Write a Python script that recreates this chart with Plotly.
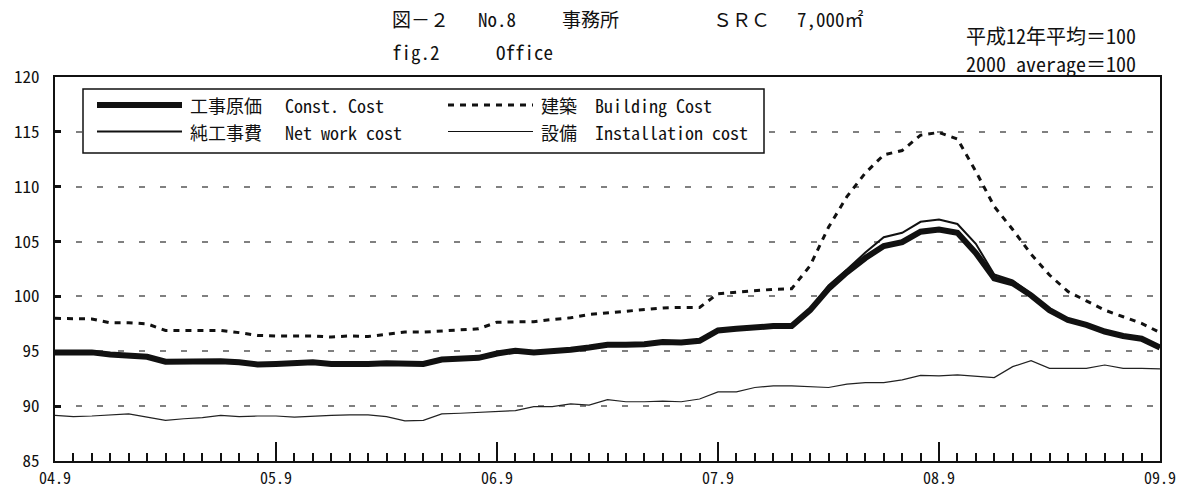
import plotly.graph_objects as go

# ---------------- data ----------------
months = list(range(61))  # monthly index, 0 = 2004.9 ... 60 = 2009.9
tick_pos = [0, 12, 24, 36, 48, 60]
tick_labels = ["04.9", "05.9", "06.9", "07.9", "08.9", "09.9"]
y_ticks = [85, 90, 95, 100, 105, 110, 115, 120]

const_cost = [94.9, 94.9, 94.9, 94.7, 94.6, 94.5, 94.05, 94.1, 94.1, 94.1, 94.0,
              93.8, 93.85, 93.9, 94.0, 93.85, 93.8, 93.85, 93.9, 93.9, 93.85,
              94.25, 94.35, 94.4, 94.8, 95.05, 94.9, 95.0, 95.15, 95.35, 95.6,
              95.6, 95.65, 95.85, 95.8, 95.95, 96.9, 97.05, 97.2, 97.3, 97.3,
              98.75, 100.7, 102.2, 103.5, 104.6, 104.95, 105.9, 106.1, 105.8, 103.95,
              101.65, 101.2, 100.1, 98.75, 97.85, 97.4, 96.8, 96.4, 96.15, 95.35]

net_work_cost = [94.95, 94.95, 94.95, 94.75, 94.65, 94.55, 94.1, 94.15, 94.15, 94.15, 94.05,
                 93.85, 93.9, 93.95, 94.05, 93.9, 93.85, 93.9, 93.95, 93.95, 93.9,
                 94.3, 94.4, 94.45, 94.85, 95.1, 94.95, 95.05, 95.2, 95.4, 95.65,
                 95.65, 95.7, 95.9, 95.85, 96.0, 96.95, 97.1, 97.25, 97.35, 97.35,
                 98.85, 101.0, 102.45, 104.0, 105.4, 105.8, 106.8, 107.0, 106.6, 104.8,
                 102.0, 101.45, 100.25, 98.8, 97.9, 97.45, 96.85, 96.45, 96.2, 95.4]

building_cost = [98.0, 98.0, 97.95, 97.6, 97.6, 97.5, 96.9, 96.9, 96.9, 96.9, 96.7,
                 96.45, 96.4, 96.4, 96.4, 96.3, 96.4, 96.35, 96.55, 96.75, 96.75,
                 96.85, 97.0, 97.05, 97.65, 97.7, 97.7, 97.9, 98.05, 98.35, 98.5,
                 98.7, 98.8, 98.95, 99.0, 99.0, 100.25, 100.4, 100.55, 100.65, 100.7,
                 102.8, 106.3, 109.1, 111.25, 112.9, 113.3, 114.7, 114.95, 114.35, 111.4,
                 108.2, 106.1, 103.85, 101.95, 100.45, 99.6, 98.75, 98.15, 97.55, 96.7]

installation_cost = [89.15, 89.05, 89.1, 89.2, 89.3, 89.0, 88.7, 88.85, 88.95, 89.15, 89.05,
                     89.1, 89.1, 89.0, 89.1, 89.15, 89.2, 89.2, 89.05, 88.65, 88.7,
                     89.3, 89.35, 89.45, 89.55, 89.6, 89.95, 89.95, 90.2, 90.1, 90.6,
                     90.4, 90.4, 90.45, 90.4, 90.65, 91.3, 91.3, 91.7, 91.85, 91.85,
                     91.8, 91.7, 92.0, 92.15, 92.15, 92.4, 92.8, 92.75, 92.85, 92.75,
                     92.6, 93.6, 94.15, 93.45, 93.45, 93.45, 93.75, 93.45, 93.45, 93.4]

# ---------------- layout constants ----------------
W, H = 1189, 492
PX0, PX1 = 55, 1160      # plot area left/right (pixels)
PY0, PY1 = 77, 461       # plot area top/bottom (pixels)
L, T = PX0, PY0
R, B = W - PX1, H - PY1
PW, PH = PX1 - PX0, PY1 - PY0
FONT = "Noto Sans Mono CJK JP, Noto Sans CJK JP, monospace"
BLD_DASH = "6px,6px"


def px(x):
    return (x - PX0) / PW


def py(y):
    return (PY1 - y) / PH


fig = go.Figure()
fig.add_trace(go.Scatter(x=months, y=installation_cost, mode="lines",
                         line=dict(color="#222", width=1.2), showlegend=False))
fig.add_trace(go.Scatter(x=months, y=building_cost, mode="lines",
                         line=dict(color="#111", width=3, dash=BLD_DASH), showlegend=False))
fig.add_trace(go.Scatter(x=months, y=net_work_cost, mode="lines",
                         line=dict(color="#111", width=2), showlegend=False))
fig.add_trace(go.Scatter(x=months, y=const_cost, mode="lines",
                         line=dict(color="#111", width=6), showlegend=False))

shapes = []
annotations = []

# legend box
shapes.append(dict(type="rect", xref="paper", yref="paper",
                   x0=px(83), x1=px(764), y0=py(153), y1=py(89),
                   line=dict(color="#111", width=1.5), fillcolor="white", layer="above"))
row1, row2 = 105, 131.5
shapes.append(dict(type="line", xref="paper", yref="paper", x0=px(97), x1=px(182),
                   y0=py(row1), y1=py(row1), line=dict(color="#111", width=6), layer="above"))
shapes.append(dict(type="line", xref="paper", yref="paper", x0=px(97), x1=px(182),
                   y0=py(row2), y1=py(row2), line=dict(color="#111", width=2), layer="above"))
shapes.append(dict(type="line", xref="paper", yref="paper", x0=px(448), x1=px(533),
                   y0=py(row1), y1=py(row1), line=dict(color="#111", width=3, dash=BLD_DASH),
                   layer="above"))
shapes.append(dict(type="line", xref="paper", yref="paper", x0=px(448), x1=px(533),
                   y0=py(row2), y1=py(row2), line=dict(color="#111", width=1.2), layer="above"))


def txt(x, y, s, size=18):
    annotations.append(dict(xref="paper", yref="paper", x=px(x), y=py(y), text=s,
                            showarrow=False, xanchor="left", yanchor="middle",
                            font=dict(family=FONT, size=size, color="#111")))


txt(188, row1, "工事原価")
txt(283, row1, "Const. Cost")
txt(188, row2, "純工事費")
txt(283, row2, "Net work cost")
txt(539, row1, "建築")
txt(593, row1, "Building Cost")
txt(539, row2, "設備")
txt(593, row2, "Installation cost")

# titles
txt(390, 19, "図－２", 19)
txt(476, 19, "No.8", 19)
txt(560, 19, "事務所", 19)
txt(711, 19, "ＳＲＣ", 19)
txt(795, 19, "7,000㎡", 19)
txt(390, 51.5, "fig.2", 19)
txt(494, 51.5, "Office", 19)
txt(964, 35, "平成12年平均＝100", 20)
txt(964, 63, "2000 average＝100", 20)

fig.update_layout(
    width=W, height=H,
    margin=dict(l=L, r=R, t=T, b=B, autoexpand=False),
    paper_bgcolor="white", plot_bgcolor="white",
    showlegend=False,
    shapes=shapes, annotations=annotations,
    font=dict(family=FONT, size=18, color="#111"),
)
fig.update_xaxes(
    range=[0, 60], tickmode="array", tickvals=tick_pos, ticktext=tick_labels,
    ticks="inside", ticklen=19, tickwidth=1.5, tickcolor="#111",
    minor=dict(tickmode="linear", tick0=0, dtick=1, ticks="inside", ticklen=8,
               tickwidth=1.5, tickcolor="#111", showgrid=False),
    showline=True, linecolor="#111", linewidth=2, mirror=True,
    showgrid=False, zeroline=False, ticklabelstandoff=2,
    tickfont=dict(family=FONT, size=16, color="#111"),
)
fig.update_yaxes(
    range=[85, 120], tickmode="array", tickvals=y_ticks,
    ticks="inside", ticklen=6, tickwidth=3, tickcolor="#111",
    showline=True, linecolor="#111", linewidth=2, mirror=True,
    showgrid=True, gridcolor="#808080", gridwidth=1.5, griddash="6px,15px",
    zeroline=False, ticklabelstandoff=10,
    tickfont=dict(family=FONT, size=17, color="#111"),
)

# remove the browser's default 8px page margin so the figure sits at (0, 0)
fig.write_html("out.html", config={"displayModeBar": False},
               post_script="document.body.style.margin='0px';")
